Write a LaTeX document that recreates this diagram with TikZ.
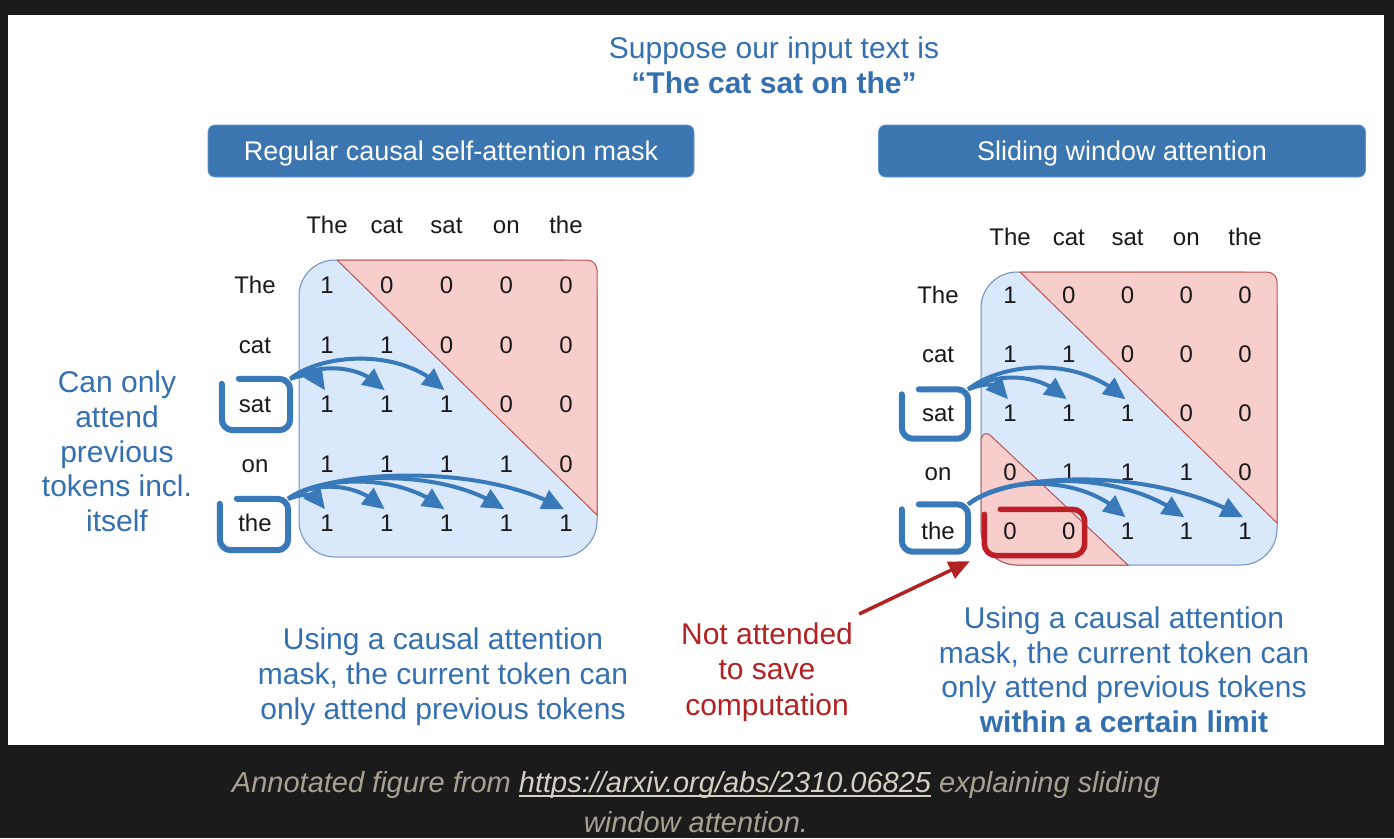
\documentclass[tikz,border=0pt]{standalone}
\usepackage{fontspec}
\setmainfont{Liberation Sans}
\usetikzlibrary{arrows.meta,bending}
\definecolor{bgdark}{RGB}{27,27,27}
\definecolor{txtblue}{RGB}{52,112,176}
\definecolor{hdrblue}{RGB}{59,118,177}
\definecolor{hdredge}{RGB}{100,150,205}
\definecolor{arrblue}{RGB}{56,121,186}
\definecolor{mfillb}{HTML}{DAE8FC}
\definecolor{mstrokeb}{HTML}{6C8EBF}
\definecolor{mfillr}{HTML}{F8CECC}
\definecolor{mstroker}{HTML}{B85450}
\definecolor{annred}{RGB}{178,34,34}
\definecolor{boxred}{RGB}{190,30,38}
\definecolor{captxt}{RGB}{168,161,146}
\definecolor{caplink}{RGB}{214,208,195}
\newcommand{\fsz}[2]{\fontsize{#1}{#2}\selectfont}
\newsavebox{\linkbox}
\newcommand{\linkul}[1]{\sbox{\linkbox}{#1}\rlap{\usebox{\linkbox}}\rule[-4.5pt]{\wd\linkbox}{1.8pt}}
\tikzset{
  lbl/.style={font=\fsz{24}{28}, inner sep=0, anchor=base, text=black!90},
  hdr/.style={rectangle, rounded corners=7pt, fill=hdrblue, draw=hdredge, line width=0.8pt,
              text=white, font=\fsz{27}{32}, inner sep=0, minimum height=52pt,
              text height=22pt, text depth=4pt},
  ann/.style={font=\fsz{30}{34.8}, text=txtblue, align=center, inner sep=0, anchor=north},
  holder/.style={inner sep=0, minimum width=#1},
  tok/.style={draw=arrblue, line width=6pt, rounded corners=11pt, line cap=round},
  redbox/.style={draw=boxred, line width=5.5pt, rounded corners=12pt, line cap=round},
  att/.style={draw=arrblue, line width=4pt, -{Triangle[length=22pt,width=20pt,flex]}},
  redarr/.style={draw=annred, line width=3.5pt, -{Triangle[length=21pt,width=18pt]}},
  mblue/.style={fill=mfillb, draw=mstrokeb, line width=1pt},
  mred/.style={fill=mfillr, draw=mstroker, line width=1pt}
}
\begin{document}
\begin{tikzpicture}[x=1pt,y=-1pt]
\useasboundingbox (0,0) rectangle (1394,838);
\fill[bgdark] (0,0) rectangle (1394,838);
\fill[white] (8,15) rectangle (1384,745);

% title
\node[ann, anchor=north, font=\fsz{30}{35}] (title) at (774,36.5) {Suppose our input text is\\\textbf{“The cat sat on the”}};

% headers
\node[hdr, minimum width=486pt] (hL) at (451,151) {Regular causal self-attention mask};
\node[hdr, minimum width=487pt] (hR) at (1122,151) {Sliding window attention};

% left matrix background
\draw[mblue, rounded corners=36pt] (299,260) rectangle (597,557);
\draw[mred] (337,260) -- (587,260) .. controls (592.5,260) and (597,264.5) .. (597,270) -- (597,515) -- cycle;

% right matrix background
\draw[mblue, rounded corners=36pt] (981,272) rectangle (1277,565);
\draw[mred] (1020,272) -- (1267,272) .. controls (1272.5,272) and (1277,276.5) .. (1277,282) -- (1277,523) -- cycle;
\draw[mred] (981,441) .. controls (981,434) and (986,431) .. (991,436) -- (1128,565) -- (1017,565) .. controls (997.1,565) and (981,548.9) .. (981,529) -- cycle;

% digits
\foreach \r/\vals in {1/{1,0,0,0,0},2/{1,1,0,0,0},3/{1,1,1,0,0},4/{1,1,1,1,0},5/{1,1,1,1,1}}{
  \foreach \v [count=\c] in \vals {
    \node[lbl] (L-\r-\c) at ({327+(\c-1)*59.75},{285+(\r-1)*59.5+8.5}) {\v};
  }
}
\foreach \r/\vals in {1/{1,0,0,0,0},2/{1,1,0,0,0},3/{1,1,1,0,0},4/{0,1,1,1,0},5/{0,0,1,1,1}}{
  \foreach \v [count=\c] in \vals {
    \node[lbl] (R-\r-\c) at ({1010+(\c-1)*58.75},{295+(\r-1)*59+8.5}) {\v};
  }
}

% labels
\foreach \w [count=\c] in {The,cat,sat,on,the} {
  \node[lbl] (LC-\c) at ({327+(\c-1)*59.75},233.5) {\w};
  \node[lbl] (LR-\c) at (255,{285+(\c-1)*59.5+8.5}) {\w};
  \node[lbl] (RC-\c) at ({1010+(\c-1)*58.75},245.5) {\w};
  \node[lbl] (RR-\c) at (938,{295+(\c-1)*59+8.5}) {\w};
}

% holder nodes for hand-drawn boxes
\node[holder=68pt, minimum height=51pt] (sbL) at (256,404.5) {};
\node[holder=68pt, minimum height=51pt] (tbL) at (254,524.5) {};
\node[holder=66pt, minimum height=49pt] (sbR) at (935,414) {};
\node[holder=66pt, minimum height=47pt] (tbR) at (935,528) {};
\node[holder=100pt, minimum height=46pt] (rb) at (1034.5,532.5) {};

% red box
\draw[redbox] ([xshift=16pt]rb.north west) -- (rb.north east) -- (rb.south east) -- (rb.south west) -- ([yshift=-5pt]rb.north west);

% left arrows (sat)
\draw[att] (sbL.north east) .. controls (306,374) and (322,370) .. ([xshift=-2pt,yshift=14pt]L-3-1.center);
\draw[att] (sbL.north east) .. controls (312,366) and (358,360) .. ([xshift=-2pt,yshift=14pt]L-3-2.center);
\draw[att] (sbL.north east) .. controls (320,354) and (402,346) .. ([xshift=-2pt,yshift=14pt]L-3-3.center);
% left arrows (the)
\draw[att] (tbL.north east) .. controls (304,494) and (320,489) .. ([xshift=-2pt,yshift=14pt]L-5-1.center);
\draw[att] (tbL.north east) .. controls (308,484) and (354,478) .. ([xshift=-2pt,yshift=14pt]L-5-2.center);
\draw[att] (tbL.north east) .. controls (315,478) and (397,470) .. ([xshift=-2pt,yshift=14pt]L-5-3.center);
\draw[att] (tbL.north east) .. controls (322,474) and (442,465) .. ([xshift=-2pt,yshift=14pt]L-5-4.center);
\draw[att] (tbL.north east) .. controls (330,470) and (482,462) .. ([xshift=-2pt,yshift=14pt]L-5-5.center);
% right arrows (sat)
\draw[att] (sbR.north east) .. controls (985,383) and (1002,380) .. ([xshift=-2pt,yshift=14pt]R-3-1.center);
\draw[att] (sbR.north east) .. controls (991,375) and (1037,369) .. ([xshift=-2pt,yshift=14pt]R-3-2.center);
\draw[att] (sbR.north east) .. controls (1001,363) and (1078,354) .. ([xshift=-2pt,yshift=14pt]R-3-3.center);
% right arrows (the)
\draw[att] (tbR.north east) .. controls (1000,478) and (1082,472) .. ([xshift=-2pt,yshift=14pt]R-5-3.center);
\draw[att] (tbR.north east) .. controls (1005,474) and (1122,468) .. ([xshift=-2pt,yshift=14pt]R-5-4.center);
\draw[att] (tbR.north east) .. controls (1010,472) and (1152,466) .. ([xshift=-2pt,yshift=14pt]R-5-5.center);

% token boxes
\foreach \b in {sbL,tbL,sbR,tbR} {
  \draw[tok] ([xshift=17pt]\b.north west) -- (\b.north east) -- (\b.south east) -- (\b.south west) -- ([yshift=-5pt]\b.north west);
}

% annotations
\node[ann] (annL) at (117,370.5) {Can only\\attend\\previous\\tokens incl.\\itself};
\node[ann, font=\fsz{30}{35}] (botL) at (443,627.5) {Using a causal attention\\mask, the current token can\\only attend previous tokens};
\node[ann, font=\fsz{30}{34.7}] (botR) at (1124,606.5) {Using a causal attention\\mask, the current token can\\only attend previous tokens\\\textbf{within a certain limit}};
\node[ann, text=annred, font=\fsz{30}{35.5}] (na) at (767,622.5) {Not attended\\to save\\computation};
\draw[redarr] ([xshift=6pt,yshift=8.5pt]na.north east) -- ([xshift=-14.5pt,yshift=-5.5pt]rb.south west);

% caption
\node[font=\fsz{29}{40}\itshape, text=captxt, align=center, inner sep=0, anchor=north] (cap) at (696,771)
  {Annotated figure from {\color{caplink}\linkul{https://arxiv.org/abs/2310.06825}} explaining sliding\\window attention.};
\end{tikzpicture}
\end{document}
